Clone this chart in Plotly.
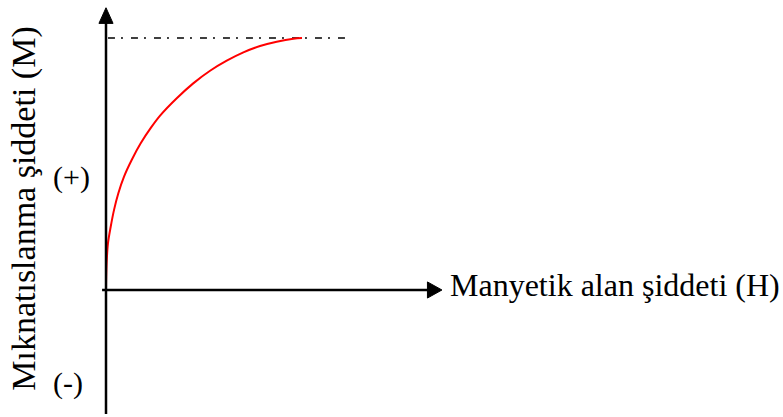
import plotly.graph_objects as go

# Magnetisation curve: field strength H vs magnetisation M (arbitrary units, saturation at M = 10)
H = [0.0, 0.01, 0.04, 0.10, 0.24, 0.41, 0.63, 0.92, 1.31, 1.77, 2.33, 2.76,
     3.61, 4.45, 5.31, 6.16, 7.01, 7.86, 8.71, 9.56, 10.0]
M = [0.0, 0.53, 1.19, 1.85, 2.51, 3.18, 3.84, 4.50, 5.16, 5.82, 6.48, 6.92,
     7.61, 8.20, 8.70, 9.10, 9.43, 9.68, 9.85, 9.97, 10.0]
M_SAT = 10.0
SAT_LINE_H = [0.1, 12.2]

x_label = "Manyetik alan şiddeti (H)"
y_label = "Mıknatıslanma şiddeti (M)"
pos_label = "(+)"
neg_label = "(-)"

FONT = "Liberation Serif, Times New Roman, serif"

X_RANGE = [-5.408, 34.541]
Y_RANGE = [-5.040, 11.508]

fig = go.Figure()

# saturation level (dash-dot)
fig.add_trace(go.Scatter(
    x=SAT_LINE_H, y=[M_SAT, M_SAT], mode="lines",
    line=dict(color="black", width=1.5, dash="7px,6px,2px,8px"),
    hoverinfo="skip", showlegend=False,
))

# magnetisation curve
fig.add_trace(go.Scatter(
    x=H, y=M, mode="lines",
    line=dict(color="#ff0000", width=2, shape="spline", smoothing=1.0),
    hoverinfo="skip", showlegend=False,
))

shapes = [
    # vertical axis
    dict(type="line", x0=0, x1=0, y0=-4.92, y1=10.7,
         line=dict(color="black", width=2.5)),
    # horizontal axis
    dict(type="line", x0=-0.2, x1=16.6, y0=0, y1=0,
         line=dict(color="black", width=2.5)),
    # arrowheads
    dict(type="path", path="M -0.36 10.58 L 0 11.2 L 0.36 10.58 Z",
         fillcolor="black", line=dict(color="black", width=1)),
    dict(type="path", path="M 16.4 -0.32 L 17.14 0 L 16.4 0.32 Z",
         fillcolor="black", line=dict(color="black", width=1)),
]

annotations = [
    dict(x=17.45, y=0.18, text=x_label, showarrow=False,
         xanchor="left", yanchor="middle", font=dict(family=FONT, size=32, color="black")),
    dict(x=-4.2, y=3.25, text=y_label, showarrow=False,
         textangle=-90, font=dict(family=FONT, size=34, color="black")),
    dict(x=-1.735, y=4.48, text=pos_label, showarrow=False,
         font=dict(family=FONT, size=30, color="black")),
    dict(x=-1.94, y=-3.69, text=neg_label, showarrow=False,
         font=dict(family=FONT, size=30, color="black")),
]

fig.update_layout(
    width=783, height=417,
    margin=dict(l=0, r=0, t=0, b=0),
    paper_bgcolor="white", plot_bgcolor="white",
    xaxis=dict(range=X_RANGE, visible=False, fixedrange=True),
    yaxis=dict(range=Y_RANGE, visible=False, fixedrange=True),
    shapes=shapes, annotations=annotations,
    showlegend=False,
)

fig.write_html("out.html")
